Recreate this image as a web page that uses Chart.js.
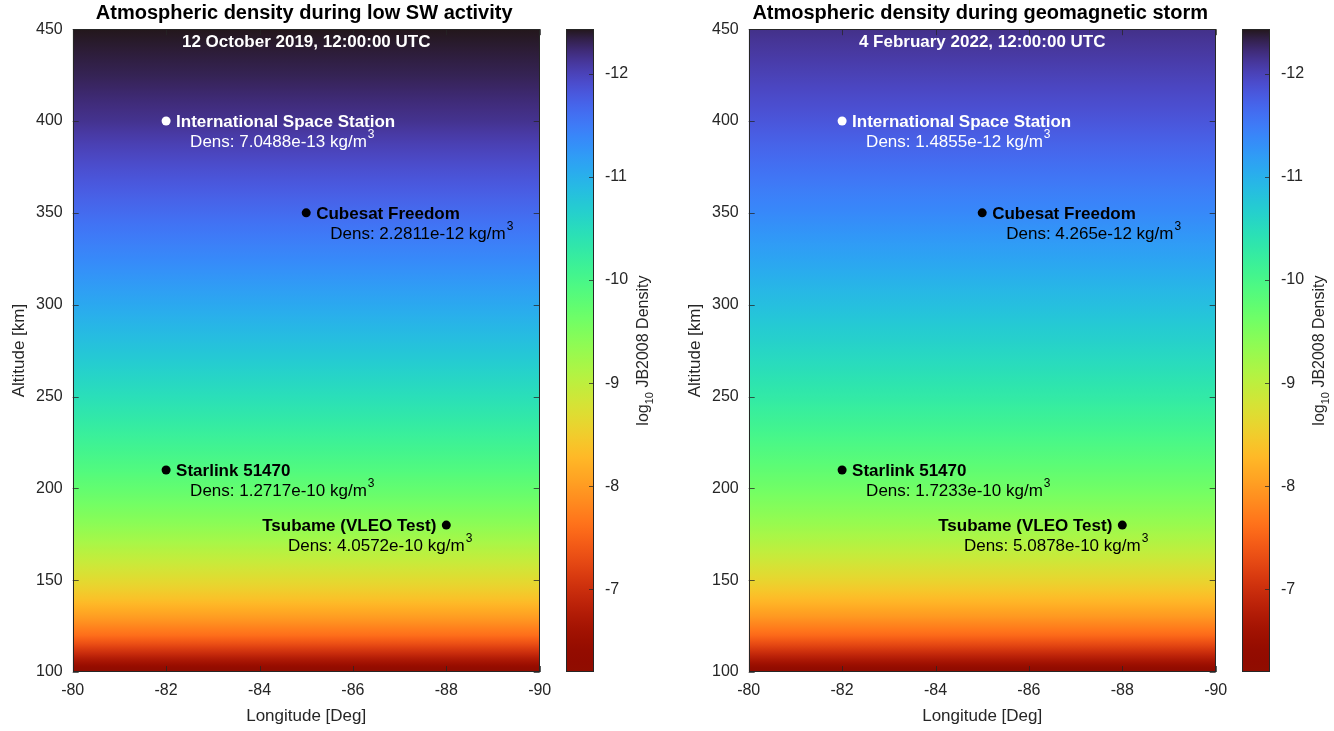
<!DOCTYPE html>
<html>
<head>
<meta charset="utf-8">
<script src="https://cdn.jsdelivr.net/npm/chart.js@4.4.1/dist/chart.umd.min.js"></script>
<style>
  body { margin: 0; background: #fff; }
  #wrap { position: relative; width: 1334px; height: 731px; overflow: hidden; }
  canvas { position: absolute; top: 0; }
</style>
</head>
<body>
<div id="wrap">
  <canvas id="mainLow" width="612" height="731" style="left:0px"></canvas>
  <canvas id="cbLow" width="118" height="731" style="left:540px"></canvas>
  <canvas id="mainStorm" width="612" height="731" style="left:676px"></canvas>
  <canvas id="cbStorm" width="118" height="731" style="left:1216px"></canvas>
</div>
<script>
// altitude profile (km) and log10 density
const altitudes = [100, 105, 110, 115, 120, 130, 140, 150, 160, 170, 180, 190, 200, 210, 225, 250, 275, 300, 325, 350, 375, 400, 425, 450];
const logDensLow = [-6.20, -6.60, -6.96, -7.30, -7.60, -8.02, -8.38, -8.67, -8.92, -9.16, -9.39, -9.57, -9.74, -9.90, -10.12, -10.46, -10.78, -11.08, -11.37, -11.64, -11.90, -12.15, -12.31, -12.43];
const logDensStorm = [-6.21, -6.60, -6.95, -7.27, -7.56, -7.97, -8.31, -8.60, -8.85, -9.08, -9.29, -9.46, -9.62, -9.76, -9.97, -10.29, -10.58, -10.85, -11.12, -11.37, -11.60, -11.83, -12.01, -12.17];

const lonRange = [-80, -90];
const lonTicks = [-80, -82, -84, -86, -88, -90];
const altTicks = [100, 150, 200, 250, 300, 350, 400, 450];
const colorLimits = [-12.43, -6.20];
const colorTicks = [-12, -11, -10, -9, -8, -7];

const satNames = ['International Space Station', 'Cubesat Freedom', 'Starlink 51470', 'Tsubame (VLEO Test)'];
const satLon = [-82, -85, -82, -88];
const satAlt = [400, 350, 210, 180];
const satDensLow = [7.0488e-13, 2.2811e-12, 1.2717e-10, 4.0572e-10];
const satDensStorm = [1.4855e-12, 4.265e-12, 1.7233e-10, 5.0878e-10];

// styling only
const satColors = ['#ffffff', '#000000', '#000000', '#000000'];
const satLabelSide = ['right', 'right', 'right', 'left'];

const FONT = "'Liberation Sans', Arial, Helvetica, sans-serif";
const AXIS = '#262626';
Chart.defaults.font.family = FONT;

function turbo(t) {
  t = Math.min(1, Math.max(0, t));
  const r = 0.13572138 + t * (4.61539260 + t * (-42.66032258 + t * (132.13108234 + t * (-152.94239396 + t * 59.28637943))));
  const g = 0.09140261 + t * (2.19418839 + t * (4.84296658 + t * (-14.18503333 + t * (4.27729857 + t * 2.82956604))));
  const b = 0.10667330 + t * (12.64194608 + t * (-60.58204836 + t * (110.36276771 + t * (-89.90310912 + t * 27.34824973))));
  const c = v => Math.round(255 * Math.min(1, Math.max(0, v)));
  return 'rgb(' + c(r) + ',' + c(g) + ',' + c(b) + ')';
}
function colorOf(v) {
  return turbo((v - colorLimits[0]) / (colorLimits[1] - colorLimits[0]));
}

// density field, shaded between the profile rows
const heatmap = {
  id: 'heatmap',
  beforeDatasetsDraw(chart, args, opts) {
    const { ctx, chartArea: a, scales: { x, y } } = chart;
    const vals = opts.values;
    const n = altitudes.length;
    const yTop = y.getPixelForValue(altitudes[n - 1]);
    const yBot = y.getPixelForValue(altitudes[0]);
    const grad = ctx.createLinearGradient(0, yBot, 0, yTop);
    for (let i = 0; i < n; i++) {
      const sub = i < n - 1 ? 4 : 1;
      for (let k = 0; k < sub; k++) {
        const f = k / sub;
        const alt = i < n - 1 ? altitudes[i] + (altitudes[i + 1] - altitudes[i]) * f : altitudes[i];
        const v = i < n - 1 ? vals[i] + (vals[i + 1] - vals[i]) * f : vals[i];
        const p = (y.getPixelForValue(alt) - yBot) / (yTop - yBot);
        grad.addColorStop(Math.min(1, Math.max(0, p)), colorOf(v));
      }
    }
    const xl = x.getPixelForValue(lonRange[0]);
    const xr = x.getPixelForValue(lonRange[1]);
    ctx.save();
    ctx.beginPath();
    ctx.rect(a.left, a.top, a.right - a.left, a.bottom - a.top);
    ctx.clip();
    ctx.fillStyle = grad;
    ctx.fillRect(Math.min(xl, xr), yTop, Math.abs(xr - xl), yBot - yTop);
    ctx.restore();
  }
};

// axes box with inward ticks
const frame = {
  id: 'frame',
  afterDatasetsDraw(chart, args, opts) {
    const { ctx, chartArea: a } = chart;
    ctx.save();
    ctx.strokeStyle = 'rgba(38,38,38,0.75)';
    ctx.lineWidth = 1;
    const L = opts.tick || 0;
    ctx.beginPath();
    if (L) {
      const { x, y } = chart.scales;
      x.ticks.forEach(t => {
        const px = Math.round(x.getPixelForValue(t.value)) + 0.5;
        ctx.moveTo(px, a.bottom); ctx.lineTo(px, a.bottom - L);
        ctx.moveTo(px, a.top); ctx.lineTo(px, a.top + L);
      });
      y.ticks.forEach(t => {
        const py = Math.round(y.getPixelForValue(t.value)) + 0.5;
        ctx.moveTo(a.left, py); ctx.lineTo(a.left + L, py);
        ctx.moveTo(a.right, py); ctx.lineTo(a.right - L, py);
      });
    }
    if (opts.cbTick) {
      const y = chart.scales.y;
      y.ticks.forEach(t => {
        const py = Math.round(y.getPixelForValue(t.value)) + 0.5;
        ctx.moveTo(a.right, py); ctx.lineTo(a.right - opts.cbTick, py);
      });
    }
    ctx.stroke();
    ctx.strokeStyle = AXIS;
    ctx.strokeRect(Math.round(a.left) + 0.5, Math.round(a.top) + 0.5, Math.round(a.right - a.left) - 1, Math.round(a.bottom - a.top) - 1);
    ctx.restore();
  }
};

// panel title, satellite labels and date stamp
const labels = {
  id: 'labels',
  afterDraw(chart, args, opts) {
    const { ctx, chartArea: a, scales: { x, y } } = chart;
    const cx = (a.left + a.right) / 2;
    ctx.save();
    ctx.textBaseline = 'middle';
    ctx.textAlign = 'center';
    ctx.font = 'bold 20px ' + FONT;
    ctx.fillStyle = '#000000';
    ctx.fillText(opts.title, cx - 2, 13);
    ctx.font = 'bold 17px ' + FONT;
    ctx.fillStyle = '#ffffff';
    ctx.fillText(opts.date, cx, a.top + 13);
    for (let i = 0; i < satNames.length; i++) {
      const px = x.getPixelForValue(satLon[i]);
      const py = y.getPixelForValue(satAlt[i]);
      ctx.fillStyle = satColors[i];
      const dens = 'Dens: ' + String(opts.dens[i]) + ' kg/m';
      ctx.font = 'bold 17px ' + FONT;
      if (satLabelSide[i] === 'right') {
        ctx.textAlign = 'left';
        ctx.fillText(satNames[i], px + 10, py + 1);
        ctx.font = '17px ' + FONT;
        ctx.fillText(dens, px + 24, py + 21);
        const w = ctx.measureText(dens).width;
        ctx.font = '12px ' + FONT;
        ctx.fillText('3', px + 24 + w + 1, py + 14);
      } else {
        ctx.textAlign = 'right';
        ctx.fillText(satNames[i], px - 10, py + 1);
        ctx.font = '12px ' + FONT;
        const w3 = ctx.measureText('3').width;
        ctx.fillText('3', px + 26, py + 14);
        ctx.font = '17px ' + FONT;
        ctx.fillText(dens, px + 26 - w3 - 1, py + 21);
      }
    }
    ctx.restore();
  }
};

// rotated colorbar label with subscript
const cbLabel = {
  id: 'cbLabel',
  afterDraw(chart) {
    const { ctx, chartArea: a } = chart;
    ctx.save();
    ctx.translate(a.right + 50, (a.top + a.bottom) / 2);
    ctx.rotate(-Math.PI / 2);
    ctx.fillStyle = AXIS;
    ctx.textBaseline = 'middle';
    ctx.textAlign = 'left';
    const big = '16px ' + FONT, small = '11px ' + FONT;
    ctx.font = big; const w1 = ctx.measureText('log').width; const w3 = ctx.measureText(' JB2008 Density').width;
    ctx.font = small; const w2 = ctx.measureText('10').width;
    const sx = -(w1 + w2 + w3) / 2;
    ctx.font = big; ctx.fillText('log', sx, 0);
    ctx.font = small; ctx.fillText('10', sx + w1, 6);
    ctx.font = big; ctx.fillText(' JB2008 Density', sx + w1 + w2, 0);
    ctx.restore();
  }
};

function makePanel(mainId, cbId, title, date, values, dens) {
  new Chart(document.getElementById(mainId), {
    type: 'scatter',
    data: {
      datasets: [{
        data: satLon.map((lon, i) => ({ x: lon, y: satAlt[i] })),
        pointRadius: 4.5,
        pointHoverRadius: 4.5,
        pointBorderWidth: 0,
        pointBackgroundColor: satColors
      }]
    },
    options: {
      responsive: false,
      animation: false,
      events: [],
      layout: { padding: { top: 29.2, right: 72.3 } },
      plugins: {
        legend: { display: false },
        tooltip: { enabled: false },
        title: { display: false },
        heatmap: { values: values },
        frame: { tick: 6 },
        labels: { title: title, date: date, dens: dens }
      },
      scales: {
        x: {
          type: 'linear', min: -90, max: -80, reverse: true,
          afterBuildTicks: s => { s.ticks = lonTicks.map(v => ({ value: v })); },
          afterFit: s => { s.height = 59; s.paddingLeft = 0; s.paddingRight = 0; },
          grid: { display: false, drawTicks: false }, border: { display: false },
          ticks: { color: AXIS, padding: 9, font: { size: 16 }, maxRotation: 0 },
          title: { display: true, text: 'Longitude [Deg]', color: AXIS, font: { size: 17 }, padding: { top: 4, bottom: 4 } }
        },
        y: {
          type: 'linear', min: 100, max: 450,
          afterBuildTicks: s => { s.ticks = altTicks.map(v => ({ value: v })); },
          afterFit: s => { s.width = 72.7; s.paddingTop = 0; s.paddingBottom = 0; },
          grid: { display: false, drawTicks: false }, border: { display: false },
          ticks: { color: AXIS, padding: 10, font: { size: 16 } },
          title: { display: true, text: 'Altitude [km]', color: AXIS, font: { size: 17 }, padding: { top: 9, bottom: 0 } }
        }
      }
    },
    plugins: [heatmap, frame, labels]
  });

  new Chart(document.getElementById(cbId), {
    type: 'bar',
    data: {
      labels: ['cb'],
      datasets: [{
        data: [colorLimits.slice()],
        barPercentage: 1,
        categoryPercentage: 1,
        borderWidth: 0,
        backgroundColor: ctx => {
          const c = ctx.chart, a = c.chartArea;
          if (!a) return '#888';
          const y = c.scales.y;
          const grad = c.ctx.createLinearGradient(0, a.top, 0, a.bottom);
          for (let i = 0; i <= 60; i++) {
            const v = colorLimits[0] + (colorLimits[1] - colorLimits[0]) * i / 60;
            const p = (y.getPixelForValue(v) - a.top) / (a.bottom - a.top);
            grad.addColorStop(Math.min(1, Math.max(0, p)), colorOf(v));
          }
          return grad;
        }
      }]
    },
    options: {
      responsive: false,
      animation: false,
      events: [],
      layout: { padding: { left: 26, top: 29.2, bottom: 59 } },
      plugins: { legend: { display: false }, tooltip: { enabled: false }, frame: { cbTick: 5 } },
      scales: {
        x: { display: false },
        y: {
          position: 'right', min: colorLimits[0], max: colorLimits[1], reverse: true,
          afterBuildTicks: s => { s.ticks = colorTicks.map(v => ({ value: v })); },
          afterFit: s => { s.width = 64; s.paddingTop = 0; s.paddingBottom = 0; },
          grid: { display: false, drawTicks: false }, border: { display: false },
          ticks: { color: AXIS, padding: 11, font: { size: 16 } }
        }
      }
    },
    plugins: [frame, cbLabel]
  });
}

makePanel('mainLow', 'cbLow', 'Atmospheric density during low SW activity', '12 October 2019, 12:00:00 UTC', logDensLow, satDensLow);
makePanel('mainStorm', 'cbStorm', 'Atmospheric density during geomagnetic storm', '4 February 2022, 12:00:00 UTC', logDensStorm, satDensStorm);
</script>
</body>
</html>
